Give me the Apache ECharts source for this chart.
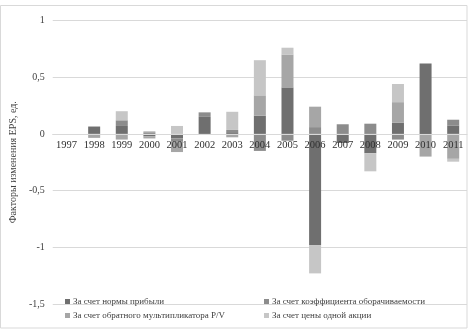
<!DOCTYPE html>
<html><head><meta charset="utf-8">
<script src="https://cdn.jsdelivr.net/npm/echarts@6/dist/echarts.min.js"></script>
<style>html,body{margin:0;padding:0;background:#fff}#c{width:474px;height:333px}</style>
</head><body><div id="c"></div>
<script>
var categories = ['1997','1998','1999','2000','2001','2002','2003','2004','2005','2006','2007','2008','2009','2010','2011'];
var seriesNames = ['За счет нормы прибыли','За счет коэффициента оборачиваемости','За счет обратного мультипликатора P/V','За счет цены одной акции'];
var profitMargin = [0, 0.065, 0.07, -0.02, -0.04, 0.15, 0.015, 0.16, 0.41, -0.98, -0.08, -0.17, 0.10, 0.62, 0.075];
var turnover     = [0, 0, 0.05, 0.015, -0.03, 0.04, 0.02, -0.15, -0.06, 0.06, 0.085, 0.09, -0.05, 0, 0.05];
var inversePV    = [0, -0.035, -0.05, -0.02, -0.09, 0, -0.03, 0.18, 0.29, 0.18, 0, 0, 0.18, -0.2, -0.22];
var sharePrice   = [0, 0, 0.08, 0.01, 0.07, 0, 0.16, 0.31, 0.06, -0.25, 0, -0.16, 0.16, 0, -0.025];
var yTicks = {min: -1.5, max: 1, interval: 0.5};

var colors = ['#6f6f6f','#8c8c8c','#a6a6a6','#c6c6c6'];
var font = 'Liberation Serif';
var H = 333, gTop = 20.5, gBottom = 29;
var plotH = H - gTop - gBottom;
var zeroOffset = -plotH * (0 - yTicks.min) / (yTicks.max - yTicks.min);
var dataArr = [profitMargin, turnover, inversePV, sharePrice];
var series = dataArr.map(function(d, i){
  return {name: seriesNames[i], type: 'bar', stack: 'eps', data: d, barWidth: 12,
    itemStyle: {color: colors[i]}, emphasis: {disabled: true}, z: 2};
});
var chart = echarts.init(document.getElementById('c'), null, {renderer: 'canvas'});
chart.setOption({
  animation: false,
  color: colors,
  textStyle: {fontFamily: font},
  grid: {left: 32, right: 7, top: gTop, bottom: gBottom, containLabel: false},
  graphic: [{type: 'rect', shape: {x: 0.5, y: 5.5, width: 466.5, height: 322.5},
    style: {fill: 'none', stroke: '#d9d9d9', lineWidth: 1}, silent: true, z: -10}],
  legend: [
    {data: [seriesNames[0], seriesNames[2]], orient: 'vertical', left: 60, top: 292,
     itemWidth: 5, itemHeight: 5, itemGap: 5, icon: 'rect',
     textStyle: {fontFamily: font, fontSize: 9, color: '#404040', padding: [0,0,0,-2]}},
    {data: [seriesNames[1], seriesNames[3]], orient: 'vertical', left: 259, top: 292,
     itemWidth: 5, itemHeight: 5, itemGap: 5, icon: 'rect',
     textStyle: {fontFamily: font, fontSize: 9, color: '#404040', padding: [0,0,0,-2]}}
  ],
  xAxis: {type: 'category', data: categories, position: 'bottom', offset: zeroOffset, z: 5,
    axisLine: {onZero: false, lineStyle: {color: '#d9d9d9'}},
    axisTick: {show: false},
    axisLabel: {fontFamily: font, fontSize: 10.5, color: '#303030', margin: 6, interval: 0}},
  yAxis: {type: 'value', min: yTicks.min, max: yTicks.max, interval: yTicks.interval,
    name: 'Факторы изменения EPS, ед.', nameLocation: 'middle', nameGap: 20,
    nameTextStyle: {fontFamily: font, fontSize: 10, color: '#404040'},
    axisLine: {show: false}, axisTick: {show: false},
    splitLine: {lineStyle: {color: '#d9d9d9'}},
    axisLabel: {fontFamily: font, fontSize: 10, color: '#404040', margin: 8,
      formatter: function(v){ return String(Math.round(v*10)/10).replace('.', ','); }}},
  series: series
});
</script></body></html>
